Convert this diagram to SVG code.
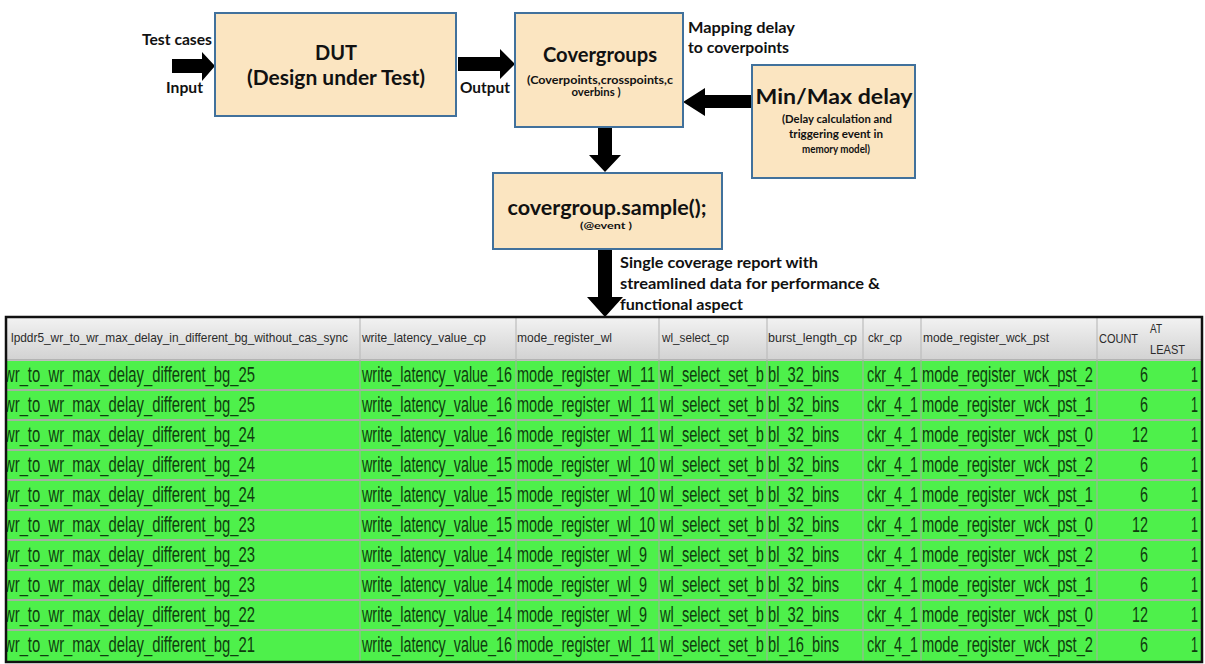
<svg xmlns="http://www.w3.org/2000/svg" width="1205" height="664" viewBox="0 0 1205 664">
  <style>
    .box { fill: #fbe5c1; stroke: #41719c; stroke-width: 2; }
    .lbl { font-family: Lato, "Open Sans", "Liberation Sans", sans-serif; font-weight: bold; fill: #111; }
    .big { font-size: 21px; }
    .mid { font-size: 14.5px; }
    .sml { font-size: 11.5px; }
    .arrow { fill: #000; }
    .hd { font-family: "Liberation Sans Narrow", "Liberation Sans", sans-serif; font-size: 13px; fill: #2b2b2b; }
    .cell { font-family: "Liberation Sans Narrow", "Liberation Sans", sans-serif; font-size: 17.6px; fill: #0f3d0f; }
    .rowsep { stroke: #a3b3a0; stroke-width: 2; }
    .colsep { stroke: #9db59a; stroke-width: 1.2; }
    .hsep { stroke: #bdbdbd; stroke-width: 1.2; }
  </style>
  <defs>
    <linearGradient id="hdrGrad" x1="0" y1="0" x2="0" y2="1">
      <stop offset="0" stop-color="#f2f2f2"/>
      <stop offset="1" stop-color="#d2d2d2"/>
    </linearGradient>
    <clipPath id="tableClip">
      <rect x="7" y="318" width="1194" height="343"/>
    </clipPath>
  </defs>

  <rect width="1205" height="664" fill="#ffffff"/>

  <!-- connectors: block arrows -->
  <g id="connectors" class="arrow">
    <!-- test cases into DUT -->
    <polygon points="172,59 202,59 202,52 215,66 202,81 202,73 172,73"/>
    <!-- DUT output to covergroups -->
    <polygon points="458,57 500,57 500,49 515,64 500,79 500,71 458,71"/>
    <!-- min/max delay to covergroups -->
    <polygon points="752,95 705,95 705,88 683,102 705,116 705,108 752,108"/>
    <!-- covergroups to sample -->
    <polygon points="598,127 612,127 612,155 621,155 605,172 589,155 598,155"/>
    <!-- sample to coverage report -->
    <polygon points="598,249 612,249 612,297 623,297 605,317 587,297 598,297"/>
  </g>

  <!-- input labels -->
  <g id="input-labels">
    <text class="lbl mid" x="142" y="45" textLength="70" lengthAdjust="spacingAndGlyphs">Test cases</text>
    <text class="lbl mid" x="166" y="93" textLength="37" lengthAdjust="spacingAndGlyphs">Input</text>
  </g>

  <g id="dut">
    <rect class="box" x="215" y="13" width="241" height="103"/>
    <text class="lbl big" x="336" y="60" text-anchor="middle" textLength="42" lengthAdjust="spacingAndGlyphs">DUT</text>
    <text class="lbl big" x="336" y="85" text-anchor="middle" textLength="178" lengthAdjust="spacingAndGlyphs">(Design under Test)</text>
  </g>

  <g id="output-label">
    <text class="lbl mid" x="460" y="93" textLength="50" lengthAdjust="spacingAndGlyphs">Output</text>
  </g>

  <g id="covergroups">
    <rect class="box" x="515" y="13" width="168" height="114"/>
    <text class="lbl big" x="600" y="62" text-anchor="middle" textLength="114" lengthAdjust="spacingAndGlyphs">Covergroups</text>
    <text class="lbl sml" x="600" y="84" text-anchor="middle" textLength="146" lengthAdjust="spacingAndGlyphs">(Coverpoints,crosspoints,c</text>
    <text class="lbl sml" x="596" y="96" text-anchor="middle" textLength="49" lengthAdjust="spacingAndGlyphs">overbins )</text>
  </g>

  <g id="mapping-label">
    <text class="lbl mid" x="688" y="33" textLength="107" lengthAdjust="spacingAndGlyphs">Mapping delay</text>
    <text class="lbl mid" x="688" y="53" textLength="101" lengthAdjust="spacingAndGlyphs">to coverpoints</text>
  </g>

  <g id="minmax-delay">
    <rect class="box" x="752" y="65" width="163" height="113"/>
    <text class="lbl big" x="834" y="104" text-anchor="middle" textLength="157" lengthAdjust="spacingAndGlyphs">Min/Max delay</text>
    <text class="lbl sml" x="837" y="123" text-anchor="middle" textLength="110" lengthAdjust="spacingAndGlyphs">(Delay calculation and</text>
    <text class="lbl sml" x="836" y="138" text-anchor="middle" textLength="94" lengthAdjust="spacingAndGlyphs">triggering event in</text>
    <text class="lbl sml" x="836" y="153" text-anchor="middle" textLength="68" lengthAdjust="spacingAndGlyphs">memory model)</text>
  </g>

  <g id="sample">
    <rect class="box" x="493" y="173" width="229" height="76"/>
    <text class="lbl big" x="607" y="215" text-anchor="middle" textLength="199" lengthAdjust="spacingAndGlyphs">covergroup.sample();</text>
    <text class="lbl" x="606" y="229" text-anchor="middle" font-size="10" textLength="52" lengthAdjust="spacingAndGlyphs">(@event )</text>
  </g>

  <g id="report-label">
    <text class="lbl mid" x="620" y="268" textLength="198" lengthAdjust="spacingAndGlyphs">Single coverage report with</text>
    <text class="lbl mid" x="620" y="289" textLength="260" lengthAdjust="spacingAndGlyphs">streamlined data for performance &amp;</text>
    <text class="lbl mid" x="620" y="310" textLength="123" lengthAdjust="spacingAndGlyphs">functional aspect</text>
  </g>

  <!-- coverage report table -->
  <g id="coverage-table">
    <g clip-path="url(#tableClip)">
      <!-- header -->
      <rect x="7" y="318" width="1194" height="42" fill="url(#hdrGrad)"/>
      <line x1="7" y1="360" x2="1201" y2="360" stroke="#a8a8a8" stroke-width="1.5"/>
      <g class="hsep">
        <line x1="360" y1="318" x2="360" y2="360"/>
        <line x1="516" y1="318" x2="516" y2="360"/>
        <line x1="659" y1="318" x2="659" y2="360"/>
        <line x1="767" y1="318" x2="767" y2="360"/>
        <line x1="863" y1="318" x2="863" y2="360"/>
        <line x1="921" y1="318" x2="921" y2="360"/>
        <line x1="1097" y1="318" x2="1097" y2="360"/>
      </g>
      <g class="hd">
        <text x="11" y="342" textLength="337" lengthAdjust="spacingAndGlyphs">lpddr5_wr_to_wr_max_delay_in_different_bg_without_cas_sync</text>
        <text x="362" y="342" textLength="124" lengthAdjust="spacingAndGlyphs">write_latency_value_cp</text>
        <text x="517" y="342" textLength="95" lengthAdjust="spacingAndGlyphs">mode_register_wl</text>
        <text x="662" y="342" textLength="67" lengthAdjust="spacingAndGlyphs">wl_select_cp</text>
        <text x="768" y="342" textLength="89" lengthAdjust="spacingAndGlyphs">burst_length_cp</text>
        <text x="868" y="342" textLength="34" lengthAdjust="spacingAndGlyphs">ckr_cp</text>
        <text x="923" y="342" textLength="126" lengthAdjust="spacingAndGlyphs">mode_register_wck_pst</text>
        <text x="1099" y="343" textLength="39" lengthAdjust="spacingAndGlyphs">COUNT</text>
        <text x="1150" y="333" textLength="12" lengthAdjust="spacingAndGlyphs">AT</text>
        <text x="1150" y="354" textLength="35" lengthAdjust="spacingAndGlyphs">LEAST</text>
      </g>

      <!-- data rows -->
      <rect x="7" y="361" width="1194" height="300" fill="#4ef04b"/>
      <g class="rowsep">
        <line x1="7" y1="390" x2="1201" y2="390"/>
        <line x1="7" y1="420" x2="1201" y2="420"/>
        <line x1="7" y1="450" x2="1201" y2="450"/>
        <line x1="7" y1="480" x2="1201" y2="480"/>
        <line x1="7" y1="510" x2="1201" y2="510"/>
        <line x1="7" y1="540" x2="1201" y2="540"/>
        <line x1="7" y1="570" x2="1201" y2="570"/>
        <line x1="7" y1="600" x2="1201" y2="600"/>
        <line x1="7" y1="630" x2="1201" y2="630"/>
      </g>
      <g class="colsep">
        <line x1="360" y1="360" x2="360" y2="661"/>
        <line x1="516" y1="360" x2="516" y2="661"/>
        <line x1="659" y1="360" x2="659" y2="661"/>
        <line x1="767" y1="360" x2="767" y2="661"/>
        <line x1="863" y1="360" x2="863" y2="661"/>
        <line x1="921" y1="360" x2="921" y2="661"/>
        <line x1="1097" y1="360" x2="1097" y2="661"/>
      </g>

      <!-- cell text: narrow face stretched vertically, baselines every 24 units (30px) -->
      <g class="cell" transform="scale(1 1.25)">
        <!-- row 1 -->
        <text x="4" y="305.6" textLength="251" lengthAdjust="spacingAndGlyphs">wr_to_wr_max_delay_different_bg_25</text>
        <text x="362" y="305.6" textLength="150" lengthAdjust="spacingAndGlyphs">write_latency_value_16</text>
        <text x="517" y="305.6" textLength="138" lengthAdjust="spacingAndGlyphs">mode_register_wl_11</text>
        <text x="660" y="305.6" textLength="104" lengthAdjust="spacingAndGlyphs">wl_select_set_b</text>
        <text x="768" y="305.6" textLength="71" lengthAdjust="spacingAndGlyphs">bl_32_bins</text>
        <text x="867" y="305.6" textLength="51" lengthAdjust="spacingAndGlyphs">ckr_4_1</text>
        <text x="922" y="305.6" textLength="171" lengthAdjust="spacingAndGlyphs">mode_register_wck_pst_2</text>
        <text x="1140" y="305.6" textLength="8" lengthAdjust="spacingAndGlyphs">6</text>
        <text x="1191" y="305.6" textLength="7" lengthAdjust="spacingAndGlyphs">1</text>
        <!-- row 2 -->
        <text x="4" y="329.6" textLength="251" lengthAdjust="spacingAndGlyphs">wr_to_wr_max_delay_different_bg_25</text>
        <text x="362" y="329.6" textLength="150" lengthAdjust="spacingAndGlyphs">write_latency_value_16</text>
        <text x="517" y="329.6" textLength="138" lengthAdjust="spacingAndGlyphs">mode_register_wl_11</text>
        <text x="660" y="329.6" textLength="104" lengthAdjust="spacingAndGlyphs">wl_select_set_b</text>
        <text x="768" y="329.6" textLength="71" lengthAdjust="spacingAndGlyphs">bl_32_bins</text>
        <text x="867" y="329.6" textLength="51" lengthAdjust="spacingAndGlyphs">ckr_4_1</text>
        <text x="922" y="329.6" textLength="171" lengthAdjust="spacingAndGlyphs">mode_register_wck_pst_1</text>
        <text x="1140" y="329.6" textLength="8" lengthAdjust="spacingAndGlyphs">6</text>
        <text x="1191" y="329.6" textLength="7" lengthAdjust="spacingAndGlyphs">1</text>
        <!-- row 3 -->
        <text x="4" y="353.6" textLength="251" lengthAdjust="spacingAndGlyphs">wr_to_wr_max_delay_different_bg_24</text>
        <text x="362" y="353.6" textLength="150" lengthAdjust="spacingAndGlyphs">write_latency_value_16</text>
        <text x="517" y="353.6" textLength="138" lengthAdjust="spacingAndGlyphs">mode_register_wl_11</text>
        <text x="660" y="353.6" textLength="104" lengthAdjust="spacingAndGlyphs">wl_select_set_b</text>
        <text x="768" y="353.6" textLength="71" lengthAdjust="spacingAndGlyphs">bl_32_bins</text>
        <text x="867" y="353.6" textLength="51" lengthAdjust="spacingAndGlyphs">ckr_4_1</text>
        <text x="922" y="353.6" textLength="171" lengthAdjust="spacingAndGlyphs">mode_register_wck_pst_0</text>
        <text x="1132" y="353.6" textLength="16" lengthAdjust="spacingAndGlyphs">12</text>
        <text x="1191" y="353.6" textLength="7" lengthAdjust="spacingAndGlyphs">1</text>
        <!-- row 4 -->
        <text x="4" y="377.6" textLength="251" lengthAdjust="spacingAndGlyphs">wr_to_wr_max_delay_different_bg_24</text>
        <text x="362" y="377.6" textLength="150" lengthAdjust="spacingAndGlyphs">write_latency_value_15</text>
        <text x="517" y="377.6" textLength="138" lengthAdjust="spacingAndGlyphs">mode_register_wl_10</text>
        <text x="660" y="377.6" textLength="104" lengthAdjust="spacingAndGlyphs">wl_select_set_b</text>
        <text x="768" y="377.6" textLength="71" lengthAdjust="spacingAndGlyphs">bl_32_bins</text>
        <text x="867" y="377.6" textLength="51" lengthAdjust="spacingAndGlyphs">ckr_4_1</text>
        <text x="922" y="377.6" textLength="171" lengthAdjust="spacingAndGlyphs">mode_register_wck_pst_2</text>
        <text x="1140" y="377.6" textLength="8" lengthAdjust="spacingAndGlyphs">6</text>
        <text x="1191" y="377.6" textLength="7" lengthAdjust="spacingAndGlyphs">1</text>
        <!-- row 5 -->
        <text x="4" y="401.6" textLength="251" lengthAdjust="spacingAndGlyphs">wr_to_wr_max_delay_different_bg_24</text>
        <text x="362" y="401.6" textLength="150" lengthAdjust="spacingAndGlyphs">write_latency_value_15</text>
        <text x="517" y="401.6" textLength="138" lengthAdjust="spacingAndGlyphs">mode_register_wl_10</text>
        <text x="660" y="401.6" textLength="104" lengthAdjust="spacingAndGlyphs">wl_select_set_b</text>
        <text x="768" y="401.6" textLength="71" lengthAdjust="spacingAndGlyphs">bl_32_bins</text>
        <text x="867" y="401.6" textLength="51" lengthAdjust="spacingAndGlyphs">ckr_4_1</text>
        <text x="922" y="401.6" textLength="171" lengthAdjust="spacingAndGlyphs">mode_register_wck_pst_1</text>
        <text x="1140" y="401.6" textLength="8" lengthAdjust="spacingAndGlyphs">6</text>
        <text x="1191" y="401.6" textLength="7" lengthAdjust="spacingAndGlyphs">1</text>
        <!-- row 6 -->
        <text x="4" y="425.6" textLength="251" lengthAdjust="spacingAndGlyphs">wr_to_wr_max_delay_different_bg_23</text>
        <text x="362" y="425.6" textLength="150" lengthAdjust="spacingAndGlyphs">write_latency_value_15</text>
        <text x="517" y="425.6" textLength="138" lengthAdjust="spacingAndGlyphs">mode_register_wl_10</text>
        <text x="660" y="425.6" textLength="104" lengthAdjust="spacingAndGlyphs">wl_select_set_b</text>
        <text x="768" y="425.6" textLength="71" lengthAdjust="spacingAndGlyphs">bl_32_bins</text>
        <text x="867" y="425.6" textLength="51" lengthAdjust="spacingAndGlyphs">ckr_4_1</text>
        <text x="922" y="425.6" textLength="171" lengthAdjust="spacingAndGlyphs">mode_register_wck_pst_0</text>
        <text x="1132" y="425.6" textLength="16" lengthAdjust="spacingAndGlyphs">12</text>
        <text x="1191" y="425.6" textLength="7" lengthAdjust="spacingAndGlyphs">1</text>
        <!-- row 7 -->
        <text x="4" y="449.6" textLength="251" lengthAdjust="spacingAndGlyphs">wr_to_wr_max_delay_different_bg_23</text>
        <text x="362" y="449.6" textLength="150" lengthAdjust="spacingAndGlyphs">write_latency_value_14</text>
        <text x="517" y="449.6" textLength="130" lengthAdjust="spacingAndGlyphs">mode_register_wl_9</text>
        <text x="660" y="449.6" textLength="104" lengthAdjust="spacingAndGlyphs">wl_select_set_b</text>
        <text x="768" y="449.6" textLength="71" lengthAdjust="spacingAndGlyphs">bl_32_bins</text>
        <text x="867" y="449.6" textLength="51" lengthAdjust="spacingAndGlyphs">ckr_4_1</text>
        <text x="922" y="449.6" textLength="171" lengthAdjust="spacingAndGlyphs">mode_register_wck_pst_2</text>
        <text x="1140" y="449.6" textLength="8" lengthAdjust="spacingAndGlyphs">6</text>
        <text x="1191" y="449.6" textLength="7" lengthAdjust="spacingAndGlyphs">1</text>
        <!-- row 8 -->
        <text x="4" y="473.6" textLength="251" lengthAdjust="spacingAndGlyphs">wr_to_wr_max_delay_different_bg_23</text>
        <text x="362" y="473.6" textLength="150" lengthAdjust="spacingAndGlyphs">write_latency_value_14</text>
        <text x="517" y="473.6" textLength="130" lengthAdjust="spacingAndGlyphs">mode_register_wl_9</text>
        <text x="660" y="473.6" textLength="104" lengthAdjust="spacingAndGlyphs">wl_select_set_b</text>
        <text x="768" y="473.6" textLength="71" lengthAdjust="spacingAndGlyphs">bl_32_bins</text>
        <text x="867" y="473.6" textLength="51" lengthAdjust="spacingAndGlyphs">ckr_4_1</text>
        <text x="922" y="473.6" textLength="171" lengthAdjust="spacingAndGlyphs">mode_register_wck_pst_1</text>
        <text x="1140" y="473.6" textLength="8" lengthAdjust="spacingAndGlyphs">6</text>
        <text x="1191" y="473.6" textLength="7" lengthAdjust="spacingAndGlyphs">1</text>
        <!-- row 9 -->
        <text x="4" y="497.6" textLength="251" lengthAdjust="spacingAndGlyphs">wr_to_wr_max_delay_different_bg_22</text>
        <text x="362" y="497.6" textLength="150" lengthAdjust="spacingAndGlyphs">write_latency_value_14</text>
        <text x="517" y="497.6" textLength="130" lengthAdjust="spacingAndGlyphs">mode_register_wl_9</text>
        <text x="660" y="497.6" textLength="104" lengthAdjust="spacingAndGlyphs">wl_select_set_b</text>
        <text x="768" y="497.6" textLength="71" lengthAdjust="spacingAndGlyphs">bl_32_bins</text>
        <text x="867" y="497.6" textLength="51" lengthAdjust="spacingAndGlyphs">ckr_4_1</text>
        <text x="922" y="497.6" textLength="171" lengthAdjust="spacingAndGlyphs">mode_register_wck_pst_0</text>
        <text x="1132" y="497.6" textLength="16" lengthAdjust="spacingAndGlyphs">12</text>
        <text x="1191" y="497.6" textLength="7" lengthAdjust="spacingAndGlyphs">1</text>
        <!-- row 10 -->
        <text x="4" y="521.6" textLength="251" lengthAdjust="spacingAndGlyphs">wr_to_wr_max_delay_different_bg_21</text>
        <text x="362" y="521.6" textLength="150" lengthAdjust="spacingAndGlyphs">write_latency_value_16</text>
        <text x="517" y="521.6" textLength="138" lengthAdjust="spacingAndGlyphs">mode_register_wl_11</text>
        <text x="660" y="521.6" textLength="104" lengthAdjust="spacingAndGlyphs">wl_select_set_b</text>
        <text x="768" y="521.6" textLength="71" lengthAdjust="spacingAndGlyphs">bl_16_bins</text>
        <text x="867" y="521.6" textLength="51" lengthAdjust="spacingAndGlyphs">ckr_4_1</text>
        <text x="922" y="521.6" textLength="171" lengthAdjust="spacingAndGlyphs">mode_register_wck_pst_2</text>
        <text x="1140" y="521.6" textLength="8" lengthAdjust="spacingAndGlyphs">6</text>
        <text x="1191" y="521.6" textLength="7" lengthAdjust="spacingAndGlyphs">1</text>
      </g>
    </g>
    <!-- outer frame -->
    <rect x="6" y="317" width="1196" height="345" fill="none" stroke="#111" stroke-width="2.5"/>
  </g>
</svg>
